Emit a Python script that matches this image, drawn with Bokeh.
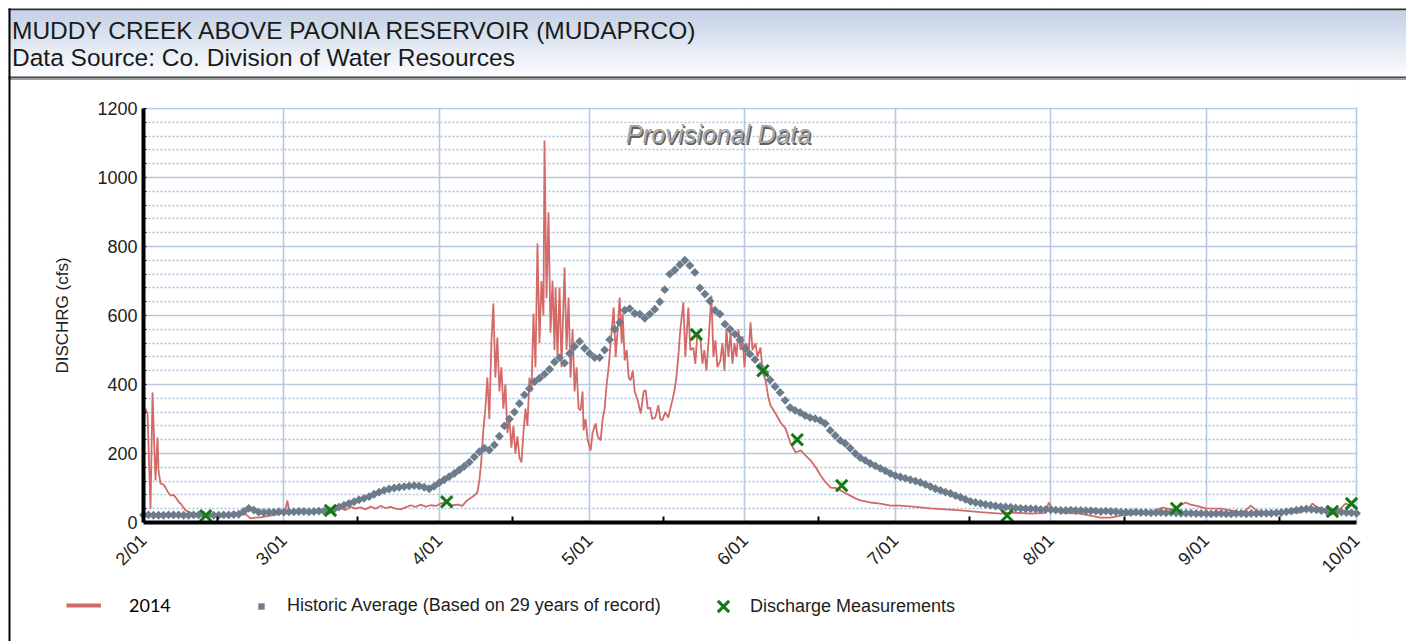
import math
import numpy as np
import pandas as pd
from bokeh.plotting import figure
from bokeh.models import Range1d, FixedTicker, Legend, LegendItem, Label
from bokeh.core.properties import value
from bokeh.embed import file_html
from bokeh.resources import INLINE

# ---------------- data ----------------
TITLE = "MUDDY CREEK ABOVE PAONIA RESERVOIR (MUDAPRCO)"
SUBTITLE = "Data Source: Co. Division of Water Resources"
Y_LABEL = "DISCHRG (cfs)"
WATERMARK = "Provisional Data"

START = "2014-02-01"
month_starts = ["2014-02-01", "2014-03-01", "2014-04-01", "2014-05-01", "2014-06-01",
                "2014-07-01", "2014-08-01", "2014-09-01", "2014-10-01"]
month_labels = ["2/01", "3/01", "4/01", "5/01", "6/01", "7/01", "8/01", "9/01", "10/01"]
mid_month = ["2014-02-15 17:00", "2014-03-15 17:00", "2014-04-15 17:00", "2014-05-15 17:00",
             "2014-06-15 17:00", "2014-07-15 17:00", "2014-08-15 17:00", "2014-09-15 17:00"]
y_ticks = [0, 200, 400, 600, 800, 1000, 1200]
y_minor = [v for v in range(0, 1201, 40) if v % 200]

# 2014 provisional discharge: (days since 2014-02-01, cfs)
flow_2014 = [
    (0.0, 300), (0.4, 330), (0.8, 316), (1.4, 40), (1.8, 377), (2.2, 200), (2.4, 122), (2.8, 246),
    (3.0, 150), (3.4, 113), (4.0, 110), (4.4, 101), (4.8, 90), (5.4, 78), (6.0, 80), (6.4, 73),
    (7.0, 60), (7.4, 55), (8.4, 35), (9.4, 29), (10.4, 22), (11.4, 20), (13.4, 22), (15.4, 18),
    (17.4, 20), (19.4, 22), (20.3, 26), (21.3, 12), (22.3, 14), (23.3, 15), (25.3, 20), (27.3, 25),
    (28.3, 35), (28.7, 64), (29.1, 30), (30.3, 32), (32.3, 30), (34.3, 32), (36.3, 30), (38.3, 38),
    (39.3, 42), (40.3, 36), (41.3, 45), (42.3, 40), (43.3, 44), (44.3, 38), (45.3, 46), (46.3, 40),
    (47.3, 48), (48.3, 42), (49.3, 45), (50.3, 40), (51.3, 38), (52.3, 44), (53.3, 50), (54.3, 45),
    (55.3, 52), (56.3, 46), (57.3, 50), (58.3, 48), (59.3, 55), (60.4, 60), (61.6, 50), (62.8, 52),
    (63.6, 48), (64.4, 62), (65.2, 70), (66.0, 78), (66.6, 87), (67.0, 120), (67.4, 180), (67.8, 267),
    (68.2, 330), (68.6, 420), (69.0, 300), (69.4, 520), (69.8, 635), (70.2, 420), (70.6, 536), (71.0, 380),
    (71.4, 450), (71.8, 330), (72.2, 400), (72.6, 260), (73.0, 300), (73.4, 217), (73.8, 280), (74.2, 200),
    (74.6, 250), (75.0, 188), (75.4, 174), (75.8, 260), (76.2, 330), (76.6, 280), (77.0, 420), (77.4, 380),
    (77.8, 606), (78.2, 450), (78.6, 809), (79.0, 520), (79.4, 700), (79.8, 600), (80.0, 1107), (80.4, 650),
    (80.8, 899), (81.2, 550), (81.6, 701), (82.0, 500), (82.2, 681), (82.6, 480), (83.0, 681), (83.4, 450),
    (84.0, 739), (84.4, 500), (84.8, 652), (85.2, 420), (85.6, 560), (86.0, 380), (86.4, 450), (86.8, 330),
    (87.2, 325), (87.6, 380), (87.8, 267), (88.2, 300), (88.6, 240), (89.2, 209), (89.6, 260), (90.2, 287),
    (90.6, 250), (91.2, 238), (91.6, 300), (92.0, 330), (92.4, 400), (92.8, 450), (93.2, 520), (93.8, 623),
    (94.2, 480), (94.6, 560), (95.0, 652), (95.4, 520), (95.6, 606), (96.0, 470), (96.4, 500), (96.8, 420),
    (97.2, 412), (97.6, 440), (98.0, 380), (98.6, 354), (99.2, 316), (99.8, 380), (100.2, 383), (100.6, 330),
    (101.1, 333), (101.5, 300), (102.1, 304), (102.7, 340), (103.1, 300), (103.5, 296), (104.1, 320),
    (104.7, 304), (105.1, 330), (105.5, 354), (105.9, 380), (106.3, 420), (106.7, 480), (107.1, 560),
    (107.7, 638), (108.1, 480), (108.7, 623), (109.1, 500), (109.7, 507), (110.1, 460), (110.5, 550),
    (111.1, 536), (111.5, 460), (111.9, 500), (112.3, 440), (112.7, 520), (113.3, 658), (113.7, 480),
    (114.1, 528), (114.5, 450), (115.1, 470), (115.5, 520), (115.9, 440), (116.3, 560), (116.7, 480),
    (117.1, 550), (117.5, 460), (117.9, 520), (118.3, 480), (118.7, 560), (119.1, 500), (119.5, 540),
    (119.9, 450), (120.3, 520), (120.7, 480), (121.1, 580), (121.5, 500), (122.1, 519), (122.5, 480),
    (123.1, 507), (123.5, 440), (124.1, 412), (124.7, 360), (125.1, 339), (126.1, 316), (127.1, 290),
    (128.1, 272), (129.1, 229), (130.1, 203), (131.1, 209), (132.1, 194), (133.1, 180), (134.1, 160),
    (135.1, 136), (136.1, 116), (137.1, 101), (138.1, 100), (139.1, 93), (140.1, 85), (141.0, 78),
    (142.0, 70), (143.0, 64), (145.0, 58), (147.0, 55), (149.0, 49), (151.0, 49), (154.0, 45), (157.0, 41),
    (160.0, 38), (163.0, 35), (167.0, 30), (171.0, 26), (173.0, 29), (177.0, 26), (180.0, 28), (180.6, 58),
    (181.4, 40), (183.0, 29), (186.9, 26), (188.9, 20), (190.9, 14), (192.9, 14), (194.9, 20), (197.9, 25),
    (200.9, 29), (203.3, 43), (204.9, 38), (205.9, 41), (206.9, 50), (207.9, 58), (208.9, 52), (209.9, 49),
    (211.9, 41), (214.9, 40), (216.9, 35), (218.9, 29), (219.9, 35), (220.9, 49), (221.8, 38), (222.8, 29),
    (226.8, 29), (230.8, 29), (232.4, 40), (233.2, 55), (234.0, 45), (234.8, 41), (237.8, 35), (238.8, 40),
    (239.8, 55), (240.8, 50), (241.8, 45),
]

# Historic daily average (29 years), one value per day from 2014-02-01 to 2014-10-01
hist_avg_cfs = [
    22, 22, 21, 21, 21, 22, 22, 22, 21, 21,
    22, 22, 22, 22, 21, 21, 22, 22, 23, 24,
    32, 41, 36, 30, 29, 30, 30, 31, 30, 31,
    31, 32, 32, 31, 32, 33, 33, 35, 38, 45,
    50, 55, 60, 66, 70, 75, 82, 88, 93, 97,
    100, 102, 104, 106, 107, 106, 102, 98, 105, 115,
    124, 133, 142, 152, 163, 175, 190, 205, 215, 210,
    225, 250, 280, 300, 320, 345, 370, 388, 408, 418,
    430, 444, 465, 478, 462, 490, 510, 525, 505, 490,
    478, 478, 500, 530, 560, 580, 615, 620, 606, 604,
    592, 604, 618, 640, 675, 720, 732, 747, 760, 745,
    725, 680, 662, 642, 615, 604, 575, 560, 546, 530,
    505, 488, 472, 452, 435, 413, 394, 377, 354, 333,
    325, 319, 310, 304, 301, 296, 287, 267, 252, 238,
    229, 215, 200, 188, 180, 171, 164, 157, 150, 142,
    136, 132, 128, 124, 120, 116, 110, 104, 98, 93,
    88, 84, 78, 73, 67, 61, 58, 55, 52, 50,
    48, 46, 45, 44, 42, 41, 40, 40, 39, 38,
    38, 37, 36, 35, 35, 36, 35, 35, 34, 34,
    33, 32, 33, 32, 31, 30, 30, 29, 30, 29,
    29, 28, 29, 29, 28, 29, 28, 27, 27, 27,
    26, 26, 26, 25, 26, 26, 25, 25, 26, 26,
    25, 26, 26, 27, 27, 27, 28, 29, 31, 33,
    36, 38, 39, 38, 37, 35, 34, 32, 31, 30,
    29, 28, 27,
]

meas_times = ["2014-02-13 10:00", "2014-03-10 07:00", "2014-04-02 12:00", "2014-05-22 07:00",
              "2014-06-04 14:00", "2014-06-11 10:00", "2014-06-20 07:00", "2014-07-23 07:00",
              "2014-08-26 02:00", "2014-09-26 05:00", "2014-09-30 00:00"]
meas_cfs = [20, 35, 60, 545, 440, 240, 107, 20, 41, 32, 55]

# ---------------- helpers ----------------
t0 = pd.Timestamp(START)
def days_since(ts):
    return (pd.Timestamp(ts) - t0) / pd.Timedelta(days=1)

tick_days = [days_since(d) for d in month_starts]
minor_days = [days_since(d) for d in mid_month]
flow_day = [d for d, _ in flow_2014]
flow_val = [v for _, v in flow_2014]
hist_day = list(range(len(hist_avg_cfs)))
meas_day = [days_since(t) for t in meas_times]

FONT = "Liberation Sans"
RED = "#d46a67"
GRAY = "#6c7c8c"
GREEN = "#137a13"
GRID = "#b6c8e2"

# ---------------- layout geometry (pixels) ----------------
W, H = 1406, 641
PL, PR, PT, PB = 143, 1356, 108, 522          # plot area edges
X0, X1 = 0.0, tick_days[-1]
Y0, Y1 = 0.0, 1200.0
kx = (X1 - X0) / (PR - PL)
ky = (Y1 - Y0) / (PB - PT)

p = figure(width=W, height=H,
           x_range=Range1d(X0 - PL * kx, X1 + (W - PR) * kx),
           y_range=Range1d(Y0 - (H - PB) * ky, Y1 + PT * ky),
           output_backend="svg", toolbar_location=None, min_border=0,
           background_fill_color="white", border_fill_color="white",
           outline_line_color=None)
p.extra_x_ranges = {"px": Range1d(0, W)}
p.extra_y_ranges = {"py": Range1d(H, 0)}
PX = dict(x_range_name="px", y_range_name="py")

# axes at the plot-area edges
p.xaxis.fixed_location = Y0
p.yaxis.fixed_location = X0
p.xaxis.bounds = (X0, X1)
p.yaxis.bounds = (Y0, Y1)

p.xaxis.ticker = FixedTicker(ticks=tick_days, minor_ticks=minor_days)
p.xaxis.major_label_overrides = {d: lab for d, lab in zip(tick_days, month_labels)}
p.xaxis.major_label_orientation = math.pi / 4
p.xaxis.major_label_standoff = 15
p.xaxis.major_tick_in = 0
p.xaxis.major_tick_out = 0
p.xaxis.minor_tick_in = 6
p.xaxis.minor_tick_out = 0
p.xaxis.minor_tick_line_width = 2
p.xaxis.axis_line_width = 4

p.yaxis.ticker = FixedTicker(ticks=y_ticks, minor_ticks=y_minor)
p.yaxis.major_tick_in = 3
p.yaxis.major_tick_out = 0
p.yaxis.minor_tick_in = 3
p.yaxis.minor_tick_out = 0
p.yaxis.major_label_standoff = 6
p.yaxis.axis_line_width = 4

for ax in (p.xaxis, p.yaxis):
    ax.axis_line_color = "black"
    ax.major_tick_line_color = "black"
    ax.minor_tick_line_color = "black"
    ax.major_label_text_font = FONT
    ax.major_label_text_font_size = "18px"
    ax.major_label_text_color = "#222222"

p.xgrid.ticker = FixedTicker(ticks=tick_days)
p.xgrid.bounds = (X0 - 1, X1 + 1)
p.xgrid.grid_line_color = GRID
p.xgrid.grid_line_width = 1.6
p.ygrid.bounds = (Y0 - 1, Y1 + 1)
p.ygrid.grid_line_color = GRID
p.ygrid.grid_line_width = 1.6
p.ygrid.minor_grid_line_color = "#adc1df"
p.ygrid.minor_grid_line_width = 1.4
p.ygrid.minor_grid_line_dash = "2 2"

# white margins around the plot area (hide grid lines outside it)
p.quad(left=[0, PR + 1.2, PL - 0.5, PL - 0.5], right=[PL - 0.5, W, PR + 1.2, PR + 1.2],
       top=[0, 0, 0, PB + 0.5], bottom=[H, H, PT - 1, H],
       fill_color="white", line_color=None, **PX)

# data
p.line(flow_day, flow_val, line_color=RED, line_width=1.8)
p.scatter(hist_day, hist_avg_cfs, marker="square", angle=math.pi / 4, size=6.3,
          fill_color=GRAY, line_color=None)
p.scatter(meas_day, meas_cfs, marker="x", size=16, line_color=GREEN, line_width=3)

# header band
n = 66
edges = np.linspace(9.7, 76, n + 1)
c0 = np.array([182, 198, 222])
c1 = np.array([250, 252, 254])
cols = ["#%02x%02x%02x" % tuple(int(round(v)) for v in (c0 + (c1 - c0) * t)) for t in np.linspace(0, 1, n)]
p.quad(left=8, right=W, top=edges[:-1], bottom=edges[1:], fill_color=cols, line_color=None, **PX)
p.quad(left=[8, 8, 8], right=[W, W, W], top=[8, 76, 78], bottom=[9.7, 78, 79.4],
       fill_color=["#303030", "#474747", "#a0a0a0"], line_color=None, **PX)
p.text(x=[11.5, 11.5], y=[30, 57], text=[TITLE, SUBTITLE], text_font=value(FONT),
       text_font_size="24.5px", text_baseline="middle", text_align="left",
       text_color="#1a1a1a", **PX)
# left frame border
p.quad(left=[8], right=[10], top=[8], bottom=[H], fill_color="black", line_color=None, **PX)

# y axis title
p.text(x=[62], y=[(PT + PB) / 2], text=[Y_LABEL], angle=math.pi / 2, text_font=value(FONT),
       text_font_size="17px", text_align="center", text_baseline="middle",
       text_color="#222222", **PX)

# watermark
p.add_layout(Label(x=96.2, y=1125, text=WATERMARK, text_font=FONT, text_font_style="italic",
                   text_font_size="25.5px", text_color="#5e5e5e", text_baseline="middle",
                   x_offset=1.2, y_offset=-1.2))
p.add_layout(Label(x=96.2, y=1125, text=WATERMARK, text_font=FONT, text_font_style="italic",
                   text_font_size="25.5px", text_color="#a6a6a6", text_baseline="middle"))

# legend proxies: renderers with a single missing (NaN) point, used only for legend styling
lg_line = p.line([np.nan], [np.nan], line_color=RED, line_width=4)
lg_hist = p.scatter([np.nan], [np.nan], marker="square", angle=math.pi / 4, size=6,
                    fill_color=GRAY, line_color=None)
lg_meas = p.scatter([np.nan], [np.nan], marker="x", size=16, line_color=GREEN, line_width=3)

LEG_CY = 606  # legend row centre (pixels from top)

def make_legend(label, rend, x, gw, gh, standoff, font, color):
    lg = Legend(items=[LegendItem(label=label, renderers=[rend])], location=(x, H - LEG_CY - gh / 2),
                orientation="horizontal", glyph_width=gw, glyph_height=gh, label_height=gh,
                label_standoff=standoff, padding=0, margin=0, border_line_color=None,
                background_fill_alpha=0, label_text_font=font, label_text_font_size="18px",
                label_text_color=color, label_text_baseline="middle")
    p.add_layout(lg)

make_legend("2014", lg_line, 66, 35, 20, 28, "Lato", "#000000")
make_legend("Historic Average (Based on 29 years of record)", lg_hist, 253, 16, 20, 18, FONT, "#1e1e1e")
make_legend("Discharge Measurements", lg_meas, 703, 40, 40, 7, FONT, "#1e1e1e")

open("out.html", "w").write(file_html(p, INLINE))
